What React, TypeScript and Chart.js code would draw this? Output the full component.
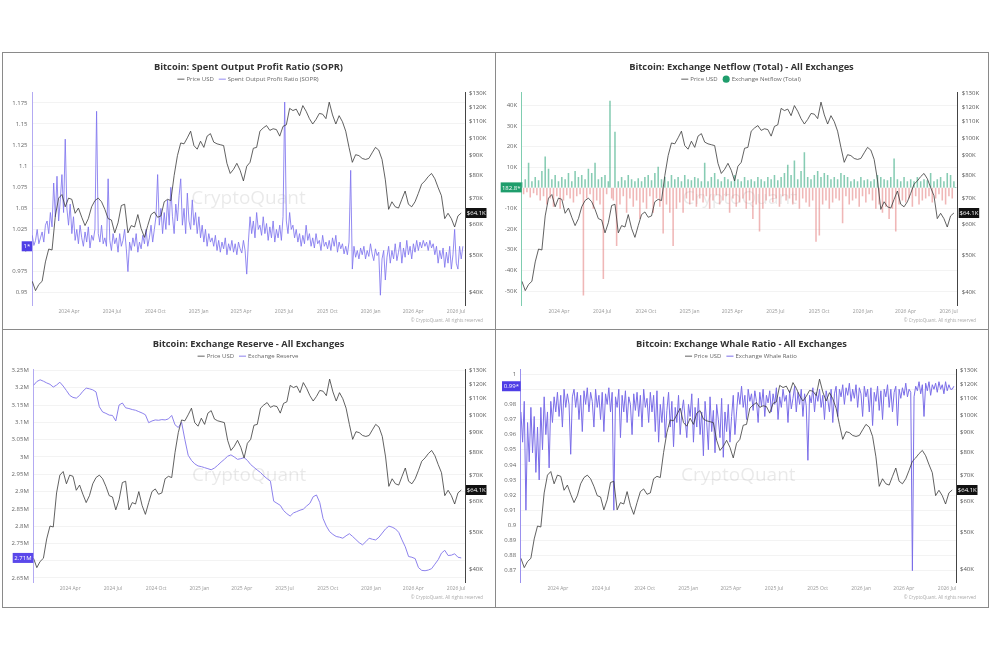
import React, { useEffect, useRef } from "react";
import { Chart, registerables } from "chart.js";
Chart.register(...registerables);

const FONT = '"Open Sans", "Noto Sans", sans-serif';
Chart.defaults.font.family = FONT;

// x positions: days since 2024-01-01
const START_DAY = 13; // 2024-01-14
const WEEK_DAYS = 7;
const HALF_WEEK_DAYS = 3.5;
const X_MIN = 12.5;
const X_MAX = 931;
const QUARTER_DAYS = [91, 182, 274, 366, 456, 547, 639, 731, 821, 912];
const QUARTER_LABELS = ["2024 Apr", "2024 Jul", "2024 Oct", "2025 Jan", "2025 Apr", "2025 Jul", "2025 Oct", "2026 Jan", "2026 Apr", "2026 Jul"];

// Price USD (thousands), weekly
const PRICE_USD_K = [
  42.8, 40.5, 42.0, 42.8, 48.0, 51.8, 51.5, 63.0, 70.0, 71.5,
  66.5, 70.0, 69.5, 64.0, 66.0, 62.5, 59.5, 62.0, 66.5, 69.0,
  70.0, 68.5, 65.5, 62.0, 61.5, 57.0, 60.5, 67.0, 67.5, 57.0,
  59.5, 59.0, 63.5, 58.5, 55.5, 59.5, 63.5, 64.5, 62.5, 63.0,
  68.5, 69.5, 69.0, 80.0, 90.0, 97.0, 96.5, 100.0, 104.0, 95.5,
  93.5, 98.0, 94.5, 101.0, 102.5, 97.5, 96.5, 96.0, 95.5, 86.0,
  81.0, 83.0, 86.0, 82.5, 77.5, 84.5, 86.5, 94.0, 94.5, 104.0,
  106.0, 107.5, 104.5, 105.5, 105.0, 101.0, 107.0, 108.0, 119.0, 117.5,
  118.5, 114.0, 121.0, 117.0, 112.0, 108.5, 111.5, 115.5, 115.0, 112.0,
  123.5, 114.5, 108.5, 114.0, 110.0, 104.0, 94.5, 86.5, 90.5, 90.0,
  88.5, 88.0, 88.5, 91.5, 94.5, 93.0, 88.0, 78.0, 65.5, 68.5,
  66.5, 66.0, 69.5, 73.0, 67.5, 66.5, 68.5, 72.0, 76.0, 77.5,
  79.5, 81.0, 78.5, 74.5, 71.0, 62.0, 64.0, 62.0, 59.0, 63.0,
  64.1,
];
const PRICE_TICKS_K = [40, 50, 60, 70, 80, 90, 100, 110, 120, 130];

// SOPR, half-weekly
const SOPR = [
  1.018, 1.006, 1.012, 1.025, 1.008, 1.015, 1.022, 1.010, 1.030, 1.035,
  1.020, 1.045, 1.028, 1.080, 1.040, 1.088, 1.035, 1.060, 1.090, 1.045,
  1.132, 1.050, 1.030, 1.055, 1.020, 1.040, 1.012, 1.025, 1.008, 1.030,
  1.015, 1.005, 1.022, 1.010, 1.028, 1.003, 1.018, 1.012, 1.025, 1.165,
  1.020, 1.010, 1.030, 1.008, 1.015, 1.005, 1.085, 1.012, 1.000, 1.020,
  1.008, 1.015, 0.998, 1.020, 1.005, 1.012, 1.025, 1.002, 0.975, 1.010,
  1.000, 1.015, 1.005, 1.020, 0.998, 1.010, 1.002, 1.018, 1.008, 1.025,
  1.005, 1.015, 1.030, 1.010, 1.025, 1.040, 1.090, 1.030, 1.050, 1.020,
  1.045, 1.025, 1.060, 1.030, 1.075, 1.040, 1.020, 1.055, 1.035, 1.065,
  1.085, 1.030, 1.050, 1.020, 1.068, 1.035, 1.025, 1.060, 1.030, 1.045,
  1.020, 1.040, 1.015, 1.030, 1.010, 1.025, 1.005, 1.020, 1.010, 1.015,
  1.005, 1.018, 1.000, 1.012, 0.998, 1.010, 1.002, 1.015, 0.995, 1.008,
  1.000, 1.012, 0.998, 1.008, 0.995, 1.010, 1.002, 0.997, 1.012, 1.000,
  0.972, 1.010, 1.040, 1.020, 1.035, 1.015, 1.045, 1.025, 1.030, 1.018,
  1.040, 1.020, 1.032, 1.012, 1.028, 1.015, 1.035, 1.010, 1.025, 1.015,
  1.030, 1.012, 1.040, 1.176, 1.035, 1.020, 1.045, 1.025, 1.030, 1.015,
  1.025, 1.010, 1.020, 1.005, 1.018, 1.008, 1.030, 1.012, 1.020, 1.005,
  1.015, 1.003, 1.020, 1.008, 1.012, 1.000, 1.018, 1.005, 1.010, 1.002,
  1.012, 1.000, 1.015, 1.005, 1.018, 0.998, 1.010, 1.002, 1.008, 0.996,
  1.005, 0.995, 1.010, 1.095, 0.978, 1.005, 0.992, 1.000, 0.990, 1.003,
  0.995, 1.005, 0.990, 1.000, 0.993, 1.008, 0.996, 0.988, 1.002, 0.994,
  0.998, 0.947, 0.990, 1.000, 0.965, 0.992, 1.005, 0.985, 1.000, 0.990,
  1.008, 0.988, 0.998, 1.010, 0.985, 1.003, 0.992, 1.012, 0.995, 1.005,
  0.990, 1.008, 0.998, 1.012, 1.000, 1.010, 1.003, 1.012, 1.005, 1.010,
  1.000, 1.012, 1.003, 1.008, 0.995, 1.005, 0.985, 1.000, 0.990, 1.003,
  0.980, 0.998, 0.985, 1.005, 0.978, 0.995, 1.025, 0.985, 0.978, 1.005,
  0.990, 1.005,
];
const SOPR_TICKS = [0.95, 0.975, 1, 1.025, 1.05, 1.075, 1.1, 1.125, 1.15, 1.175];

// Exchange Netflow (BTC), half-weekly
const NETFLOW = [
  2500, -3000, 4000, -2000, 12000, -4500, 3000, -2500, 5000, -3500,
  3500, -6000, 8000, -4000, 15000, -8000, 9000, -5000, 4000, -9000,
  6000, -4000, 3000, -10000, 5000, -6000, 4000, -3500, 7000, -5000,
  3000, -7000, 8000, -4000, 5000, -3000, 6000, -52000, 4000, -5000,
  9000, -3000, 7000, -10000, 12000, -6000, 4000, -8000, 5000, -44000,
  6000, -3000, 3000, 42000, -5000, -6000, 27000, -28000, 3000, -8000,
  5000, -4000, 3500, -12000, 6000, -5000, 4000, -9000, 3000, -6000,
  4500, -15000, 3000, -7000, 5000, -10000, 6000, -4000, 3500, -12000,
  7000, -5000, 10000, -9000, 4000, -22000, 5000, -8000, 3000, -12000,
  6000, -28000, 4000, -10000, 5000, -7000, 3000, -12000, 6000, -5000,
  4000, -8000, 3500, -6000, 5000, -9000, 4500, -5000, 3000, -7000,
  12000, -4000, 3000, -10000, 5000, -6000, 7000, -3500, 4000, -8000,
  3000, -6000, 5000, -4000, 4000, -12000, 3000, -5000, 6000, -9000,
  4000, -7000, 3000, -5000, 5000, -10000, 3500, -6000, 4000, -15000,
  3000, -8000, 5000, -21000, 4000, -10000, 3000, -6000, 5000, -4000,
  4000, -7000, 6000, -5000, 3500, -9000, 5000, -4000, 7000, -6000,
  11000, -5000, 6000, -8000, 13000, -6000, 4000, -10000, 8000, -5000,
  17000, -7000, 5000, -9000, 4000, -6000, 6000, -26000, 8000, -23000,
  5000, -8000, 7000, -6000, 6000, -10000, 4000, -7000, 5000, -5000,
  4000, -6000, 7000, -17000, 6000, -4000, 5000, -8000, 3000, -6000,
  4000, -5000, 3000, -9000, 5000, -4000, 3500, -7000, 4000, -3000,
  3000, -6000, 4000, -10000, 6000, -8000, 5000, -12000, 4000, -9000,
  3500, -15000, 5000, -10000, 14000, -21000, 4000, -8000, 3000, -6000,
  5000, -7000, 3000, -5000, 4000, -9000, 3000, -4000, 5000, -8000,
  3000, -6000, 4000, -5000, 3500, -4000, 7000, -7000, 3000, -5000,
  4000, -3000, 5000, -6000, 3000, -8000, 7000, -4000, 6000, -5000,
  3000, 182.8,
];
const NETFLOW_TICKS = [-50000, -40000, -30000, -20000, -10000, 0, 10000, 20000, 30000, 40000];

// Exchange Reserve (million BTC), weekly
const RESERVE_M = [
  3.207, 3.218, 3.223, 3.219, 3.214, 3.210, 3.202, 3.208, 3.216, 3.205,
  3.192, 3.178, 3.172, 3.170, 3.178, 3.190, 3.199, 3.197, 3.194, 3.188,
  3.145, 3.130, 3.126, 3.121, 3.120, 3.104, 3.150, 3.156, 3.142, 3.140,
  3.137, 3.135, 3.131, 3.127, 3.122, 3.099, 3.104, 3.107, 3.106, 3.108,
  3.107, 3.110, 3.120, 3.093, 3.085, 3.100, 3.050, 3.005, 2.990, 2.980,
  2.974, 2.972, 2.969, 2.966, 2.963, 2.968, 2.976, 2.985, 2.993, 3.002,
  3.006, 3.000, 2.993, 2.995, 2.998, 2.990, 2.978, 2.970, 2.962, 2.955,
  2.945, 2.937, 2.930, 2.872, 2.866, 2.860, 2.845, 2.836, 2.829, 2.838,
  2.842, 2.846, 2.849, 2.858, 2.866, 2.885, 2.890, 2.868, 2.822, 2.800,
  2.784, 2.776, 2.770, 2.768, 2.765, 2.772, 2.778, 2.770, 2.761, 2.752,
  2.746, 2.755, 2.765, 2.762, 2.760, 2.768, 2.780, 2.792, 2.800, 2.797,
  2.792, 2.782, 2.760, 2.740, 2.712, 2.710, 2.706, 2.680, 2.672, 2.671,
  2.673, 2.677, 2.690, 2.703, 2.722, 2.730, 2.715, 2.716, 2.720, 2.710,
  2.708,
];
const RESERVE_TICKS = [2.65, 2.7, 2.75, 2.8, 2.85, 2.9, 2.95, 3, 3.05, 3.1, 3.15, 3.2, 3.25];

// Exchange Whale Ratio, half-weekly
const WHALE_RATIO = [
  0.975, 0.955, 0.982, 0.910, 0.968, 0.942, 0.978, 0.948, 0.972, 0.935,
  0.965, 0.930, 0.978, 0.950, 0.985, 0.960, 0.975, 0.938, 0.982, 0.968,
  0.985, 0.975, 0.988, 0.972, 0.986, 0.965, 0.990, 0.978, 0.987, 0.980,
  0.947, 0.985, 0.990, 0.978, 0.988, 0.970, 0.986, 0.962, 0.989, 0.980,
  0.991, 0.975, 0.988, 0.982, 0.965, 0.990, 0.978, 0.986, 0.970, 0.988,
  0.962, 0.987, 0.980, 0.991, 0.975, 0.988, 0.910, 0.985, 0.978, 0.990,
  0.958, 0.986, 0.975, 0.989, 0.968, 0.985, 0.980, 0.960, 0.987, 0.976,
  0.988, 0.972, 0.986, 0.965, 0.990, 0.978, 0.984, 0.968, 0.988, 0.975,
  0.986, 0.962, 0.989, 0.955, 0.980, 0.968, 0.985, 0.958, 0.976, 0.988,
  0.965, 0.982, 0.952, 0.978, 0.968, 0.986, 0.960, 0.975, 0.983, 0.970,
  0.958, 0.980, 0.972, 0.987, 0.955, 0.978, 0.965, 0.984, 0.960, 0.975,
  0.946, 0.982, 0.968, 0.950, 0.985, 0.962, 0.976, 0.948, 0.980, 0.970,
  0.958, 0.984, 0.945, 0.975, 0.962, 0.980, 0.955, 0.972, 0.986, 0.960,
  0.975, 0.988, 0.980, 0.992, 0.978, 0.986, 0.970, 0.990, 0.982, 0.987,
  0.976, 0.989, 0.982, 0.968, 0.988, 0.979, 0.990, 0.972, 0.986, 0.981,
  0.989, 0.975, 0.987, 0.980, 0.991, 0.970, 0.985, 0.978, 0.990, 0.982,
  0.986, 0.968, 0.989, 0.977, 0.984, 0.992, 0.975, 0.988, 0.980, 0.990,
  0.972, 0.987, 0.979, 0.943, 0.986, 0.981, 0.991, 0.975, 0.988, 0.982,
  0.990, 0.978, 0.986, 0.970, 0.989, 0.983, 0.975, 0.990, 0.968, 0.987,
  0.992, 0.972, 0.990, 0.985, 0.993, 0.980, 0.991, 0.986, 0.994, 0.982,
  0.990, 0.984, 0.993, 0.978, 0.991, 0.987, 0.972, 0.992, 0.985, 0.990,
  0.975, 0.991, 0.966, 0.988, 0.982, 0.992, 0.976, 0.989, 0.970, 0.990,
  0.985, 0.993, 0.978, 0.990, 0.975, 0.988, 0.992, 0.966, 0.990, 0.984,
  0.991, 0.986, 0.994, 0.985, 0.990, 0.988, 0.870, 0.985, 0.992, 0.989,
  0.995, 0.987, 0.993, 0.972, 0.994, 0.989, 0.995, 0.986, 0.993, 0.990,
  0.994, 0.988, 0.995, 0.990, 0.993, 0.987, 0.995, 0.989, 0.993, 0.990,
  0.990, 0.992,
];
const WHALE_TICKS = [0.87, 0.88, 0.89, 0.9, 0.91, 0.92, 0.93, 0.94, 0.95, 0.96, 0.97, 0.98, 0.99, 1];

const PLOT_BOTTOM = 253;

type PanelCfg = {
  title: string;
  leftWidth: number;
  rightWidth: number;
  leftMin: number;
  leftMax: number;
  leftTicks: number[];
  leftFmt: (v: number) => string;
  axisColor: string;
  dataset: any;
  legendColor: string;
  boxText: string;
  boxValue: number;
  boxColor: string;
  boxX0: number;
};

function drawBox(ctx: CanvasRenderingContext2D, x0: number, x1: number, yc: number, color: string, text: string) {
  ctx.fillStyle = color;
  ctx.fillRect(x0, yc - 5, x1 - x0, 10);
  ctx.fillStyle = "#fff";
  ctx.font = `6px ${FONT}`;
  ctx.textAlign = "center";
  ctx.textBaseline = "middle";
  ctx.fillText(text, (x0 + x1) / 2, yc + 0.5);
}

function decor(cfg: PanelCfg) {
  return {
    id: "decor",
    beforeDatasetsDraw(chart: any) {
      const { ctx, chartArea: a } = chart;
      ctx.save();
      ctx.font = `19px ${FONT}`;
      ctx.fillStyle = "rgba(0,0,0,0.085)";
      ctx.textAlign = "center";
      ctx.textBaseline = "middle";
      ctx.fillText("CryptoQuant", (a.left + a.right) / 2, (a.top + a.bottom) / 2);
      ctx.restore();
    },
    afterDraw(chart: any) {
      const { ctx, chartArea: a, scales } = chart;
      ctx.save();
      drawBox(ctx, cfg.boxX0, a.left, scales.y.getPixelForValue(cfg.boxValue), cfg.boxColor, cfg.boxText);
      const last = PRICE_USD_K[PRICE_USD_K.length - 1];
      drawBox(ctx, a.right + 1, a.right + 21.5, scales.yR.getPixelForValue(last), "#111", `$${last}K`);
      ctx.font = `4.5px ${FONT}`;
      ctx.fillStyle = "#aaa";
      ctx.textAlign = "right";
      ctx.textBaseline = "middle";
      ctx.fillText("© CryptoQuant. All rights reserved", chart.width - 12, 269);
      ctx.restore();
    },
  };
}

function buildConfig(cfg: PanelCfg, height: number): any {
  const priceData = PRICE_USD_K.map((v, i) => ({ x: START_DAY + i * WEEK_DAYS, y: v }));
  return {
    type: "line",
    data: {
      datasets: [
        {
          label: "Price USD",
          data: priceData,
          yAxisID: "yR",
          borderColor: "#3a3a3a",
          borderWidth: 0.8,
          pointRadius: 0,
          pointStyle: "line",
          order: 0,
        },
        { ...cfg.dataset, yAxisID: "y", order: 1 },
      ],
    },
    options: {
      responsive: false,
      animation: false,
      events: [],
      layout: { padding: 0 },
      plugins: {
        title: {
          display: true,
          text: cfg.title,
          color: "#333",
          font: { family: FONT, size: 9.3, weight: "bold" },
          padding: { top: 9.4, bottom: -2.4 },
        },
        legend: {
          display: true,
          labels: {
            usePointStyle: true,
            boxWidth: 5,
            boxHeight: 5,
            color: "#666",
            font: { family: FONT, size: 6 },
            padding: 6,
            generateLabels: (chart: any) => {
              const items = Chart.defaults.plugins.legend.labels.generateLabels(chart);
              items.forEach((it: any) => {
                if (it.datasetIndex === 1) {
                  it.fillStyle = cfg.legendColor;
                  it.strokeStyle = cfg.legendColor;
                }
              });
              return items;
            },
          },
        },
        tooltip: { enabled: false },
      },
      scales: {
        x: {
          type: "linear",
          min: X_MIN,
          max: X_MAX,
          offset: false,
          grid: { display: false, drawTicks: false },
          border: { display: false },
          afterBuildTicks: (s: any) => {
            s.ticks = QUARTER_DAYS.map((v) => ({ value: v }));
          },
          ticks: {
            autoSkip: false,
            maxRotation: 0,
            padding: 4,
            color: "#999",
            font: { family: FONT, size: 5 },
            callback: (_v: any, i: number) => QUARTER_LABELS[i],
          },
          afterFit: (s: any) => {
            s.height = height - PLOT_BOTTOM;
          },
        },
        y: {
          type: "linear",
          position: "left",
          min: cfg.leftMin,
          max: cfg.leftMax,
          grid: { color: "#f3f3f3", drawTicks: false },
          border: { color: cfg.axisColor, width: 1 },
          afterBuildTicks: (s: any) => {
            s.ticks = cfg.leftTicks.map((v) => ({ value: v }));
          },
          ticks: {
            padding: 4.5,
            color: "#666",
            font: { family: FONT, size: 6 },
            callback: (v: number) => cfg.leftFmt(v),
          },
          afterFit: (s: any) => {
            s.width = cfg.leftWidth;
          },
        },
        yR: {
          type: "logarithmic",
          position: "right",
          min: 37.2,
          max: 131,
          grid: { display: false, drawTicks: false },
          border: { color: "#444", width: 1 },
          afterBuildTicks: (s: any) => {
            s.ticks = PRICE_TICKS_K.map((v) => ({ value: v }));
          },
          ticks: {
            padding: 4,
            color: "#555",
            font: { family: FONT, size: 6 },
            callback: (v: number) => `$${v}K`,
          },
          afterFit: (s: any) => {
            s.width = cfg.rightWidth;
          },
        },
      },
    },
    plugins: [decor(cfg)],
  };
}

function Panel({ cfg, left, top, width, height }: { cfg: PanelCfg; left: number; top: number; width: number; height: number }) {
  const ref = useRef<HTMLCanvasElement>(null);
  useEffect(() => {
    const chart = new Chart(ref.current as HTMLCanvasElement, buildConfig(cfg, height));
    return () => chart.destroy();
  }, []);
  return (
    <canvas
      ref={ref}
      width={width}
      height={height}
      style={{ position: "absolute", left, top, width, height }}
    />
  );
}

const halfWeekPoints = (arr: number[]) => arr.map((v, j) => ({ x: START_DAY + j * HALF_WEEK_DAYS, y: v }));

const soprCfg: PanelCfg = {
  title: "Bitcoin: Spent Output Profit Ratio (SOPR)",
  leftWidth: 30,
  rightWidth: 30,
  leftMin: 0.9354,
  leftMax: 1.1877,
  leftTicks: SOPR_TICKS,
  leftFmt: (v) => String(v),
  axisColor: "#b3aaf2",
  dataset: {
    label: "Spent Output Profit Ratio (SOPR)",
    data: halfWeekPoints(SOPR),
    borderColor: "#8075ee",
    borderWidth: 0.85,
    pointRadius: 0,
    pointStyle: "line",
  },
  legendColor: "#8075ee",
  boxText: "1*",
  boxValue: SOPR[SOPR.length - 1],
  boxColor: "#4f3ee6",
  boxX0: 19.7,
};

const netflowCfg: PanelCfg = {
  title: "Bitcoin: Exchange Netflow (Total) - All Exchanges",
  leftWidth: 26.7,
  rightWidth: 30.3,
  leftMin: -56774,
  leftMax: 46290,
  leftTicks: NETFLOW_TICKS,
  leftFmt: (v) => (v === 0 ? "0" : `${v / 1000}K`),
  axisColor: "#7fcdb0",
  dataset: {
    type: "bar",
    label: "Exchange Netflow (Total)",
    data: halfWeekPoints(NETFLOW),
    backgroundColor: (c: any) => ((c.raw && c.raw.y < 0) ? "rgba(226,112,112,0.5)" : "rgba(36,163,116,0.55)"),
    borderColor: "rgba(36,163,116,0.85)",
    borderWidth: 0,
    barThickness: 0.9,
    pointStyle: "circle",
  },
  legendColor: "#1f9d6c",
  boxText: "182.8*",
  boxValue: NETFLOW[NETFLOW.length - 1],
  boxColor: "#1f9d6c",
  boxX0: 5.7,
};

const reserveCfg: PanelCfg = {
  title: "Bitcoin: Exchange Reserve - All Exchanges",
  leftWidth: 31.3,
  rightWidth: 30,
  leftMin: 2.6384,
  leftMax: 3.2538,
  leftTicks: RESERVE_TICKS,
  leftFmt: (v) => `${v}M`,
  axisColor: "#b3aaf2",
  dataset: {
    label: "Exchange Reserve",
    data: RESERVE_M.map((v, i) => ({ x: START_DAY + i * WEEK_DAYS, y: v })),
    borderColor: "#8d82ec",
    borderWidth: 1,
    pointRadius: 0,
    pointStyle: "line",
  },
  legendColor: "#8d82ec",
  boxText: "2.71M",
  boxValue: RESERVE_M[RESERVE_M.length - 1],
  boxColor: "#5a48ea",
  boxX0: 10.7,
};

const whaleCfg: PanelCfg = {
  title: "Bitcoin: Exchange Whale Ratio - All Exchanges",
  leftWidth: 25.7,
  rightWidth: 32,
  leftMin: 0.8625,
  leftMax: 1.0033,
  leftTicks: WHALE_TICKS,
  leftFmt: (v) => String(v),
  axisColor: "#9a90ee",
  dataset: {
    label: "Exchange Whale Ratio",
    data: halfWeekPoints(WHALE_RATIO),
    borderColor: "#7b6ee8",
    borderWidth: 1,
    pointRadius: 0,
    pointStyle: "line",
  },
  legendColor: "#7b6ee8",
  boxText: "0.99*",
  boxValue: WHALE_RATIO[WHALE_RATIO.length - 1],
  boxColor: "#4f3ee6",
  boxX0: 7,
};

const LINE = "#8a8a8a";

export default function App() {
  return (
    <div style={{ position: "fixed", left: 0, top: 0, width: 990, height: 660, background: "#fff", overflow: "hidden" }}>
      <Panel cfg={soprCfg} left={2} top={52} width={493} height={277} />
      <Panel cfg={netflowCfg} left={495} top={52} width={493} height={277} />
      <Panel cfg={reserveCfg} left={2} top={329} width={493} height={278} />
      <Panel cfg={whaleCfg} left={495} top={329} width={493} height={278} />
      <div style={{ position: "absolute", left: 2, top: 52, width: 987, height: 556, border: `1px solid ${LINE}`, boxSizing: "border-box", pointerEvents: "none" }} />
      <div style={{ position: "absolute", left: 495, top: 52, width: 1, height: 556, background: LINE }} />
      <div style={{ position: "absolute", left: 2, top: 329, width: 987, height: 1, background: LINE }} />
    </div>
  );
}
